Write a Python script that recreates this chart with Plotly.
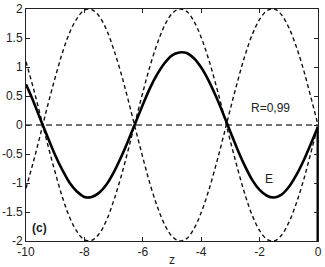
import plotly.graph_objects as go

z = [-10.0, -9.75, -9.5, -9.25, -9.0, -8.75, -8.5, -8.25, -8.0, -7.75, -7.5, -7.25, -7.0,
     -6.75, -6.5, -6.25, -6.0, -5.75, -5.5, -5.25, -5.0, -4.75, -4.5, -4.25, -4.0,
     -3.75, -3.5, -3.25, -3.0, -2.75, -2.5, -2.25, -2.0, -1.75, -1.5, -1.25, -1.0,
     -0.75, -0.5, -0.25, 0.0]

upper_env = [1.09, 0.64, 0.15, -0.35, -0.82, -1.25, -1.60, -1.84, -1.98, -1.99, -1.88, -1.65,
             -1.31, -0.90, -0.43, 0.07, 0.56, 1.02, 1.41, 1.72, 1.92, 2.00, 1.96, 1.79, 1.51,
             1.14, 0.70, 0.22, -0.28, -0.76, -1.20, -1.56, -1.82, -1.97, -2.00, -1.90, -1.68,
             -1.36, -0.96, -0.49, 0.00]

lower_env = [-1.09, -0.64, -0.15, 0.35, 0.82, 1.25, 1.60, 1.84, 1.98, 1.99, 1.88, 1.65,
             1.31, 0.90, 0.43, -0.07, -0.56, -1.02, -1.41, -1.72, -1.92, -2.00, -1.96, -1.79, -1.51,
             -1.14, -0.70, -0.22, 0.28, 0.76, 1.20, 1.56, 1.82, 1.97, 2.00, 1.90, 1.68,
             1.36, 0.96, 0.49, 0.00]

E = [0.70, 0.41, 0.09, -0.22, -0.52, -0.78, -1.00, -1.15, -1.24, -1.24, -1.17, -1.03,
     -0.82, -0.56, -0.27, 0.04, 0.35, 0.64, 0.88, 1.07, 1.20, 1.25, 1.24, 1.15, 0.99,
     0.77, 0.50, 0.20, -0.12, -0.43, -0.71, -0.95, -1.12, -1.22, -1.25, -1.20, -1.07,
     -0.87, -0.62, -0.33, -0.03]

jump_z = [0.0, 0.0]
jump_E = [-0.03, -2.0]

zero_z = [-10.0, 0.0]
zero_y = [0.0, 0.0]

x_ticks = [-10, -8, -6, -4, -2, 0]
x_ticklabels = ["-10", "-8", "-6", "-4", "-2", "0"]
y_ticks = [-2, -1.5, -1, -0.5, 0, 0.5, 1, 1.5, 2]
y_ticklabels = ["-2", "-1.5", "-1", "-0.5", "0", "0.5", "1", "1.5", "2"]

FONT = "Liberation Sans, Arial"

fig = go.Figure()
fig.add_trace(go.Scatter(x=zero_z, y=zero_y, mode="lines",
                         line=dict(color="#444", width=1.3, dash="6px,4px")))
fig.add_trace(go.Scatter(x=z, y=upper_env, mode="lines",
                         line=dict(color="#111", width=1.4, dash="4px,3px", shape="spline")))
fig.add_trace(go.Scatter(x=z, y=lower_env, mode="lines",
                         line=dict(color="#111", width=1.4, dash="4px,3px", shape="spline")))
fig.add_trace(go.Scatter(x=z, y=E, mode="lines",
                         line=dict(color="black", width=2.6, shape="spline")))
fig.add_trace(go.Scatter(x=jump_z, y=jump_E, mode="lines",
                         line=dict(color="black", width=3)))

axis_common = dict(showline=True, linecolor="#222", linewidth=1, mirror="allticks",
                   ticks="inside", ticklen=4, tickcolor="#222", showgrid=False,
                   zeroline=False, automargin=False,
                   tickfont=dict(family=FONT, size=12, color="#222"))

fig.update_xaxes(range=[-10, 0], tickvals=x_ticks, ticktext=x_ticklabels,
                 title=dict(text="z", font=dict(family=FONT, size=12, color="#222"),
                            standoff=0), **axis_common)
fig.update_yaxes(range=[-2, 2], tickvals=y_ticks, ticktext=y_ticklabels, **axis_common)

fig.add_annotation(x=-1.64, y=0.29, text="R=0,99", showarrow=False,
                   font=dict(family=FONT, size=12, color="#222"))
fig.add_annotation(x=-1.68, y=-0.93, text="E", showarrow=False,
                   font=dict(family=FONT, size=12, color="#222"))
fig.add_annotation(x=-9.55, y=-1.78, text="<b>(c)</b>", showarrow=False,
                   font=dict(family=FONT, size=12, color="#222"))

fig.update_layout(width=325, height=267, margin=dict(l=26, r=7, t=9, b=26),
                  plot_bgcolor="white", paper_bgcolor="white", showlegend=False)

fig.write_html("out.html")
